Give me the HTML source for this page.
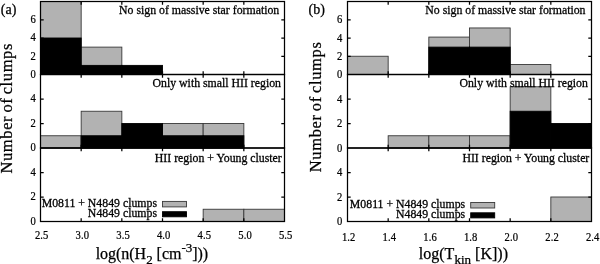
<!DOCTYPE html>
<html><head><meta charset="utf-8"><title>Histogram figure</title>
<style>
html,body{margin:0;padding:0;background:#fff}
svg{display:block;will-change:transform;filter:grayscale(1)}
text{font-family:"Liberation Serif","DejaVu Serif",serif;fill:#000}
.tk{font-size:10.6px;letter-spacing:0.1px;stroke:#000;stroke-width:0.2px}
.nt{font-size:11.8px;stroke:#000;stroke-width:0.28px}
.ax{font-size:16px;stroke:#000;stroke-width:0.25px}
.yl{font-size:16.5px;word-spacing:-1.5px}
.sub{font-size:13px}
.tag{font-size:14px;stroke:#000;stroke-width:0.25px}
</style></head>
<body>
<svg width="600" height="264" viewBox="0 0 600 264">
<rect x="0" y="0" width="600" height="264" fill="#fff"/>
<rect x="40.50" y="1.50" width="40.67" height="73.00" fill="#b2b2b2" stroke="#383838" stroke-width="0.9"/>
<rect x="81.17" y="47.12" width="40.67" height="27.38" fill="#b2b2b2" stroke="#383838" stroke-width="0.9"/>
<rect x="40.50" y="38.00" width="40.67" height="36.50" fill="#000" stroke="#000" stroke-width="0.9"/>
<rect x="81.17" y="65.38" width="40.67" height="9.12" fill="#000" stroke="#000" stroke-width="0.9"/>
<rect x="121.83" y="65.38" width="40.67" height="9.12" fill="#000" stroke="#000" stroke-width="0.9"/>
<rect x="40.50" y="135.75" width="40.67" height="12.25" fill="#b2b2b2" stroke="#383838" stroke-width="0.9"/>
<rect x="81.17" y="111.25" width="40.67" height="36.75" fill="#b2b2b2" stroke="#383838" stroke-width="0.9"/>
<rect x="162.50" y="123.50" width="40.67" height="24.50" fill="#b2b2b2" stroke="#383838" stroke-width="0.9"/>
<rect x="203.17" y="123.50" width="40.67" height="24.50" fill="#b2b2b2" stroke="#383838" stroke-width="0.9"/>
<rect x="81.17" y="135.75" width="40.67" height="12.25" fill="#000" stroke="#000" stroke-width="0.9"/>
<rect x="121.83" y="123.50" width="40.67" height="24.50" fill="#000" stroke="#000" stroke-width="0.9"/>
<rect x="162.50" y="135.75" width="40.67" height="12.25" fill="#000" stroke="#000" stroke-width="0.9"/>
<rect x="203.17" y="135.75" width="40.67" height="12.25" fill="#000" stroke="#000" stroke-width="0.9"/>
<rect x="203.17" y="209.25" width="40.67" height="12.25" fill="#b2b2b2" stroke="#383838" stroke-width="0.9"/>
<rect x="243.83" y="209.25" width="40.67" height="12.25" fill="#b2b2b2" stroke="#383838" stroke-width="0.9"/>
<rect x="40.50" y="1.50" width="244.00" height="73.00" fill="none" stroke="#000" stroke-width="1.25"/>
<path d="M81.17 74.50v-3.2M81.17 1.50v3.2" stroke="#000" stroke-width="1.25"/>
<path d="M121.83 74.50v-3.2M121.83 1.50v3.2" stroke="#000" stroke-width="1.25"/>
<path d="M162.50 74.50v-3.2M162.50 1.50v3.2" stroke="#000" stroke-width="1.25"/>
<path d="M203.17 74.50v-3.2M203.17 1.50v3.2" stroke="#000" stroke-width="1.25"/>
<path d="M243.83 74.50v-3.2M243.83 1.50v3.2" stroke="#000" stroke-width="1.25"/>
<text transform="translate(36.00 77.80) scale(1 1.13)" text-anchor="end" class="tk">0</text>
<path d="M40.50 56.25h3.2M284.50 56.25h-3.2" stroke="#000" stroke-width="1.25"/>
<text transform="translate(36.00 59.55) scale(1 1.13)" text-anchor="end" class="tk">2</text>
<path d="M40.50 38.00h3.2M284.50 38.00h-3.2" stroke="#000" stroke-width="1.25"/>
<text transform="translate(36.00 41.30) scale(1 1.13)" text-anchor="end" class="tk">4</text>
<path d="M40.50 19.75h3.2M284.50 19.75h-3.2" stroke="#000" stroke-width="1.25"/>
<text transform="translate(36.00 23.05) scale(1 1.13)" text-anchor="end" class="tk">6</text>
<text x="279.25" y="13.75" text-anchor="end" class="nt">No sign of massive star formation</text>
<rect x="40.50" y="74.50" width="244.00" height="73.50" fill="none" stroke="#000" stroke-width="1.25"/>
<path d="M81.17 148.00v-3.2M81.17 74.50v3.2" stroke="#000" stroke-width="1.25"/>
<path d="M121.83 148.00v-3.2M121.83 74.50v3.2" stroke="#000" stroke-width="1.25"/>
<path d="M162.50 148.00v-3.2M162.50 74.50v3.2" stroke="#000" stroke-width="1.25"/>
<path d="M203.17 148.00v-3.2M203.17 74.50v3.2" stroke="#000" stroke-width="1.25"/>
<path d="M243.83 148.00v-3.2M243.83 74.50v3.2" stroke="#000" stroke-width="1.25"/>
<text transform="translate(36.00 151.30) scale(1 1.13)" text-anchor="end" class="tk">0</text>
<path d="M40.50 123.50h3.2M284.50 123.50h-3.2" stroke="#000" stroke-width="1.25"/>
<text transform="translate(36.00 126.80) scale(1 1.13)" text-anchor="end" class="tk">2</text>
<path d="M40.50 99.00h3.2M284.50 99.00h-3.2" stroke="#000" stroke-width="1.25"/>
<text transform="translate(36.00 102.30) scale(1 1.13)" text-anchor="end" class="tk">4</text>
<text x="281.00" y="86.75" text-anchor="end" class="nt">Only with small HII region</text>
<rect x="40.50" y="148.00" width="244.00" height="73.50" fill="none" stroke="#000" stroke-width="1.25"/>
<path d="M81.17 221.50v-3.2M81.17 148.00v3.2" stroke="#000" stroke-width="1.25"/>
<path d="M121.83 221.50v-3.2M121.83 148.00v3.2" stroke="#000" stroke-width="1.25"/>
<path d="M162.50 221.50v-3.2M162.50 148.00v3.2" stroke="#000" stroke-width="1.25"/>
<path d="M203.17 221.50v-3.2M203.17 148.00v3.2" stroke="#000" stroke-width="1.25"/>
<path d="M243.83 221.50v-3.2M243.83 148.00v3.2" stroke="#000" stroke-width="1.25"/>
<text transform="translate(36.00 224.80) scale(1 1.13)" text-anchor="end" class="tk">0</text>
<path d="M40.50 197.00h3.2M284.50 197.00h-3.2" stroke="#000" stroke-width="1.25"/>
<text transform="translate(36.00 200.30) scale(1 1.13)" text-anchor="end" class="tk">2</text>
<path d="M40.50 172.50h3.2M284.50 172.50h-3.2" stroke="#000" stroke-width="1.25"/>
<text transform="translate(36.00 175.80) scale(1 1.13)" text-anchor="end" class="tk">4</text>
<text x="281.75" y="161.50" text-anchor="end" class="nt">HII region + Young cluster</text>
<text transform="translate(41.70 239.25) scale(1 1.13)" text-anchor="middle" class="tk">2.5</text>
<text transform="translate(82.37 239.25) scale(1 1.13)" text-anchor="middle" class="tk">3.0</text>
<text transform="translate(123.03 239.25) scale(1 1.13)" text-anchor="middle" class="tk">3.5</text>
<text transform="translate(163.70 239.25) scale(1 1.13)" text-anchor="middle" class="tk">4.0</text>
<text transform="translate(204.37 239.25) scale(1 1.13)" text-anchor="middle" class="tk">4.5</text>
<text transform="translate(245.03 239.25) scale(1 1.13)" text-anchor="middle" class="tk">5.0</text>
<text transform="translate(285.70 239.25) scale(1 1.13)" text-anchor="middle" class="tk">5.5</text>
<text x="0.8" y="13.7" class="tag">(a)</text>
<text transform="translate(11.70 108.60) rotate(-90)" text-anchor="middle" class="ax yl" textLength="130" lengthAdjust="spacing">Number of clumps</text>
<text x="157.00" y="206.75" text-anchor="end" class="nt">M0811 + N4849 clumps</text>
<text x="157.00" y="216.5" text-anchor="end" class="nt">N4849 clumps</text>
<rect x="162.50" y="201.4" width="24.0" height="5.5" fill="#b2b2b2" stroke="#383838" stroke-width="0.9"/>
<rect x="162.50" y="211.7" width="24.0" height="5.1" fill="#000" stroke="#000" stroke-width="0.9"/>
<rect x="347.50" y="56.25" width="40.67" height="18.25" fill="#b2b2b2" stroke="#383838" stroke-width="0.9"/>
<rect x="428.83" y="37.09" width="40.67" height="37.41" fill="#b2b2b2" stroke="#383838" stroke-width="0.9"/>
<rect x="469.50" y="27.96" width="40.67" height="46.54" fill="#b2b2b2" stroke="#383838" stroke-width="0.9"/>
<rect x="510.17" y="64.46" width="40.67" height="10.04" fill="#b2b2b2" stroke="#383838" stroke-width="0.9"/>
<rect x="428.83" y="47.12" width="40.67" height="27.38" fill="#000" stroke="#000" stroke-width="0.9"/>
<rect x="469.50" y="47.12" width="40.67" height="27.38" fill="#000" stroke="#000" stroke-width="0.9"/>
<rect x="388.17" y="135.75" width="40.67" height="12.25" fill="#b2b2b2" stroke="#383838" stroke-width="0.9"/>
<rect x="428.83" y="135.75" width="40.67" height="12.25" fill="#b2b2b2" stroke="#383838" stroke-width="0.9"/>
<rect x="469.50" y="135.75" width="40.67" height="12.25" fill="#b2b2b2" stroke="#383838" stroke-width="0.9"/>
<rect x="510.17" y="86.75" width="40.67" height="61.25" fill="#b2b2b2" stroke="#383838" stroke-width="0.9"/>
<rect x="510.17" y="111.25" width="40.67" height="36.75" fill="#000" stroke="#000" stroke-width="0.9"/>
<rect x="550.83" y="123.50" width="40.67" height="24.50" fill="#000" stroke="#000" stroke-width="0.9"/>
<rect x="550.83" y="197.00" width="40.67" height="24.50" fill="#b2b2b2" stroke="#383838" stroke-width="0.9"/>
<rect x="347.50" y="1.50" width="244.00" height="73.00" fill="none" stroke="#000" stroke-width="1.25"/>
<path d="M388.17 74.50v-3.2M388.17 1.50v3.2" stroke="#000" stroke-width="1.25"/>
<path d="M428.83 74.50v-3.2M428.83 1.50v3.2" stroke="#000" stroke-width="1.25"/>
<path d="M469.50 74.50v-3.2M469.50 1.50v3.2" stroke="#000" stroke-width="1.25"/>
<path d="M510.17 74.50v-3.2M510.17 1.50v3.2" stroke="#000" stroke-width="1.25"/>
<path d="M550.83 74.50v-3.2M550.83 1.50v3.2" stroke="#000" stroke-width="1.25"/>
<text transform="translate(342.30 78.20) scale(1 1.13)" text-anchor="end" class="tk">0</text>
<path d="M347.50 56.25h3.2M591.50 56.25h-3.2" stroke="#000" stroke-width="1.25"/>
<text transform="translate(342.30 59.95) scale(1 1.13)" text-anchor="end" class="tk">2</text>
<path d="M347.50 38.00h3.2M591.50 38.00h-3.2" stroke="#000" stroke-width="1.25"/>
<text transform="translate(342.30 41.70) scale(1 1.13)" text-anchor="end" class="tk">4</text>
<path d="M347.50 19.75h3.2M591.50 19.75h-3.2" stroke="#000" stroke-width="1.25"/>
<text transform="translate(342.30 23.45) scale(1 1.13)" text-anchor="end" class="tk">6</text>
<text x="585.50" y="13.75" text-anchor="end" class="nt">No sign of massive star formation</text>
<rect x="347.50" y="74.50" width="244.00" height="73.50" fill="none" stroke="#000" stroke-width="1.25"/>
<path d="M388.17 148.00v-3.2M388.17 74.50v3.2" stroke="#000" stroke-width="1.25"/>
<path d="M428.83 148.00v-3.2M428.83 74.50v3.2" stroke="#000" stroke-width="1.25"/>
<path d="M469.50 148.00v-3.2M469.50 74.50v3.2" stroke="#000" stroke-width="1.25"/>
<path d="M510.17 148.00v-3.2M510.17 74.50v3.2" stroke="#000" stroke-width="1.25"/>
<path d="M550.83 148.00v-3.2M550.83 74.50v3.2" stroke="#000" stroke-width="1.25"/>
<text transform="translate(342.30 151.70) scale(1 1.13)" text-anchor="end" class="tk">0</text>
<path d="M347.50 123.50h3.2M591.50 123.50h-3.2" stroke="#000" stroke-width="1.25"/>
<text transform="translate(342.30 127.20) scale(1 1.13)" text-anchor="end" class="tk">2</text>
<path d="M347.50 99.00h3.2M591.50 99.00h-3.2" stroke="#000" stroke-width="1.25"/>
<text transform="translate(342.30 102.70) scale(1 1.13)" text-anchor="end" class="tk">4</text>
<text x="587.90" y="86.75" text-anchor="end" class="nt">Only with small HII region</text>
<rect x="347.50" y="148.00" width="244.00" height="73.50" fill="none" stroke="#000" stroke-width="1.25"/>
<path d="M388.17 221.50v-3.2M388.17 148.00v3.2" stroke="#000" stroke-width="1.25"/>
<path d="M428.83 221.50v-3.2M428.83 148.00v3.2" stroke="#000" stroke-width="1.25"/>
<path d="M469.50 221.50v-3.2M469.50 148.00v3.2" stroke="#000" stroke-width="1.25"/>
<path d="M510.17 221.50v-3.2M510.17 148.00v3.2" stroke="#000" stroke-width="1.25"/>
<path d="M550.83 221.50v-3.2M550.83 148.00v3.2" stroke="#000" stroke-width="1.25"/>
<text transform="translate(342.30 225.20) scale(1 1.13)" text-anchor="end" class="tk">0</text>
<path d="M347.50 197.00h3.2M591.50 197.00h-3.2" stroke="#000" stroke-width="1.25"/>
<text transform="translate(342.30 200.70) scale(1 1.13)" text-anchor="end" class="tk">2</text>
<path d="M347.50 172.50h3.2M591.50 172.50h-3.2" stroke="#000" stroke-width="1.25"/>
<text transform="translate(342.30 176.20) scale(1 1.13)" text-anchor="end" class="tk">4</text>
<text x="589.30" y="161.50" text-anchor="end" class="nt">HII region + Young cluster</text>
<text transform="translate(348.70 240.5) scale(1 1.13)" text-anchor="middle" class="tk">1.2</text>
<text transform="translate(389.37 240.5) scale(1 1.13)" text-anchor="middle" class="tk">1.4</text>
<text transform="translate(430.03 240.5) scale(1 1.13)" text-anchor="middle" class="tk">1.6</text>
<text transform="translate(470.70 240.5) scale(1 1.13)" text-anchor="middle" class="tk">1.8</text>
<text transform="translate(511.37 240.5) scale(1 1.13)" text-anchor="middle" class="tk">2.0</text>
<text transform="translate(552.03 240.5) scale(1 1.13)" text-anchor="middle" class="tk">2.2</text>
<text transform="translate(592.70 240.5) scale(1 1.13)" text-anchor="middle" class="tk">2.4</text>
<text x="308.6" y="13.7" class="tag">(b)</text>
<text transform="translate(320.70 107.20) rotate(-90)" text-anchor="middle" class="ax yl" textLength="130" lengthAdjust="spacing">Number of clumps</text>
<text x="465.20" y="207.85" text-anchor="end" class="nt">M0811 + N4849 clumps</text>
<text x="465.20" y="217.6" text-anchor="end" class="nt">N4849 clumps</text>
<rect x="470.70" y="202.5" width="24.0" height="5.5" fill="#b2b2b2" stroke="#383838" stroke-width="0.9"/>
<rect x="470.70" y="212.79999999999998" width="24.0" height="5.1" fill="#000" stroke="#000" stroke-width="0.9"/>
<text x="151.9" y="258.5" text-anchor="middle" class="ax" textLength="112.5" lengthAdjust="spacing">log(n(H<tspan class="sub" dy="5.5">2</tspan><tspan dy="-5.5"> [cm</tspan><tspan class="sub" dy="-6.5">-3</tspan><tspan dy="6.5">]))</tspan></text>
<text x="463.4" y="258.5" text-anchor="middle" class="ax" textLength="89.25" lengthAdjust="spacing">log(T<tspan class="sub" dy="5.5">kin</tspan><tspan dy="-5.5"> [K]))</tspan></text>
</svg>
</body></html>
